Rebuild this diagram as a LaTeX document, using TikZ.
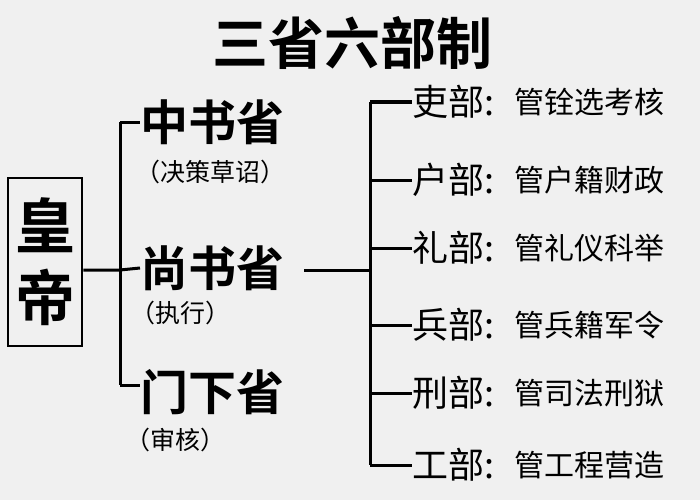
\documentclass[tikz,border=0pt]{standalone}
\usepackage{fontspec}
\newfontfamily\cjk{Noto Sans CJK SC}
\newfontfamily\cjkb{Noto Sans CJK SC Bold}
\begin{document}
\begin{tikzpicture}[x=1pt,y=-1pt,
  ln/.style={line width=3pt},
  big/.style={font=\cjkb\fontsize{48}{52}\selectfont, inner sep=0pt},
  sub/.style={font=\cjk\fontsize{25}{28}\selectfont, inner sep=0pt},
  dep/.style={font=\cjk\fontsize{36}{38}\selectfont, inner sep=0pt, anchor=west},
  dsc/.style={font=\cjk\fontsize{30}{32}\selectfont, inner sep=0pt, anchor=west}]
\fill[gray!12] (0,0) rectangle (700,500);
\useasboundingbox (0,0) rectangle (700,500);
\node[font=\cjkb\fontsize{56}{60}\selectfont] (t) at (352,43) {三省六部制};
\node[draw, line width=2.5pt, minimum width=74pt, minimum height=168pt, align=center,
  font=\cjkb\fontsize{60}{72}\selectfont, inner sep=2pt] (emp) at (45,262) {皇\\帝};
\coordinate (j1) at (120,270);
\coordinate (t1) at (120,122);
\coordinate (b1) at (120,385);
\node[big,anchor=west] (z) at (140,122) {中书省};
\node[big,anchor=west] (s) at (140,268) {尚书省};
\node[big,anchor=west] (m) at (140,392) {门下省};
\node[sub] (zs) at (210,172) {（决策草诏）};
\node[sub] (ss) at (180,313) {（执行）};
\node[sub] (ms) at (175,440) {（审核）};
\draw[ln] (emp.east|-j1) -- (j1) -- (s.west);
\draw[ln] (t1) -- (b1);
\draw[ln] (t1) -- (z.west);
\draw[ln] (b1) -- (m.west|-b1);
\coordinate (j2) at (370,270);
\coordinate (t2) at (370,102);
\coordinate (b2) at (370,465);
\draw[ln] (s.east) ++(20,2) -- (j2);
\draw[ln] (t2) -- (b2);
\foreach \y/\a/\b/\n in {102/吏部/管铨选考核/1,180/户部/管户籍财政/2,248/礼部/管礼仪科举/3,325/兵部/管兵籍军令/4,393/刑部/管司法刑狱/5,465/工部/管工程营造/6}{
  \node[dep] (d\n) at (412,\y) {\a:};
  \node[dsc] (e\n) at (514,\y) {\b};
  \draw[ln] (370,\y) -- (d\n.west);
}
\end{tikzpicture}
\end{document}
